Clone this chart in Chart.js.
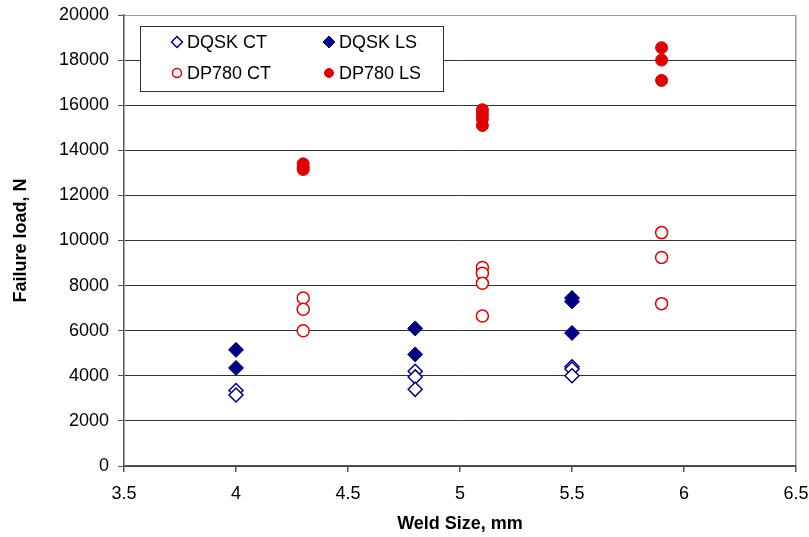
<!DOCTYPE html>
<html>
<head>
<meta charset="utf-8">
<script src="https://cdn.jsdelivr.net/npm/chart.js@4/dist/chart.umd.min.js"></script>
<style>
html,body{margin:0;padding:0;background:#fff;}
#wrap{width:809px;height:537px;position:relative;}
</style>
</head>
<body>
<div id="wrap"><canvas id="c" width="809" height="537"></canvas></div>
<script>
// ---- data ----
const seriesNames = ["DQSK CT", "DQSK LS", "DP780 CT", "DP780 LS"];

const dqskCtX = [4.0, 4.0, 4.8, 4.8, 4.8, 5.5, 5.5, 5.5];
const dqskCtY = [3350, 3150, 4200, 3950, 3400, 4400, 4300, 4000];

const dqskLsX = [4.0, 4.0, 4.8, 4.8, 5.5, 5.5, 5.5];
const dqskLsY = [5150, 4350, 6100, 4950, 7450, 7300, 5900];

const dp780CtX = [4.3, 4.3, 4.3, 5.1, 5.1, 5.1, 5.1, 5.9, 5.9, 5.9];
const dp780CtY = [7450, 6950, 6000, 8800, 8550, 8100, 6650, 10350, 9250, 7200];

const dp780LsX = [4.3, 4.3, 4.3, 5.1, 5.1, 5.1, 5.1, 5.9, 5.9, 5.9];
const dp780LsY = [13400, 13250, 13150, 15800, 15600, 15400, 15100, 18550, 18000, 17100];

const xTicks = [3.5, 4, 4.5, 5, 5.5, 6, 6.5];
const xTickLabels = ["3.5", "4", "4.5", "5", "5.5", "6", "6.5"];
const yTicks = [0, 2000, 4000, 6000, 8000, 10000, 12000, 14000, 16000, 18000, 20000];
const yTickLabels = ["0", "2000", "4000", "6000", "8000", "10000", "12000", "14000", "16000", "18000", "20000"];

const xTitle = "Weld Size, mm";
const yTitle = "Failure load, N";

// ---- build ----
const NAVY = '#000080';
const RED = '#E00000';
const FONT = "'Liberation Sans', Arial, sans-serif";

function pts(xs, ys){ return xs.map((x,i)=>({x:x, y:ys[i]})); }

const styles = [
  {pointStyle:'rectRot', radius:7, bg:'#ffffff', border:NAVY, bw:1.5},
  {pointStyle:'rectRot', radius:7.5, bg:NAVY, border:NAVY, bw:1},
  {pointStyle:'circle', radius:6, bg:'#ffffff', border:RED, bw:1.5},
  {pointStyle:'circle', radius:6, bg:RED, border:RED, bw:1}
];
const dataXY = [[dqskCtX,dqskCtY],[dqskLsX,dqskLsY],[dp780CtX,dp780CtY],[dp780LsX,dp780LsY]];

const datasets = seriesNames.map((n,i)=>({
  label:n,
  data:pts(dataXY[i][0], dataXY[i][1]),
  showLine:false,
  pointStyle:styles[i].pointStyle,
  pointRadius:styles[i].radius,
  pointHoverRadius:styles[i].radius,
  backgroundColor:styles[i].bg,
  borderColor:styles[i].border,
  pointBorderWidth:styles[i].bw,
  borderWidth:styles[i].bw
}));

const legendPlugin = {
  id:'boxLegend',
  afterDatasetsDraw(chart){
    const ctx = chart.ctx;
    ctx.save();
    const bx=140, by=26, bw=303, bh=65;
    ctx.fillStyle='#fff';
    ctx.fillRect(bx,by,bw,bh);
    ctx.strokeStyle='#333';
    ctx.lineWidth=1;
    ctx.strokeRect(bx+0.5,by+0.5,bw,bh);
    const pos = [[177,42],[329,42],[177,73],[329,73]];
    ctx.font = "18px " + FONT;
    ctx.textBaseline='middle';
    ctx.textAlign='left';
    seriesNames.forEach((n,i)=>{
      const [mx,my]=pos[i];
      const s=styles[i];
      ctx.fillStyle=s.bg; ctx.strokeStyle=s.border; ctx.lineWidth=s.bw;
      Chart.helpers.drawPoint(ctx,{pointStyle:s.pointStyle, radius:s.radius-1.5, rotation:0, borderWidth:s.bw}, mx, my);
      ctx.fillStyle='#000';
      ctx.fillText(n, mx+10, my+1);
    });
    ctx.restore();
  }
};

new Chart(document.getElementById('c'), {
  type:'scatter',
  data:{datasets:datasets},
  options:{
    responsive:false,
    animation:false,
    events:[],
    layout:{padding:{top:15,right:13,left:0,bottom:0}},
    plugins:{legend:{display:false}, tooltip:{enabled:false}},
    scales:{
      x:{
        type:'linear', min:3.5, max:6.5,
        afterBuildTicks(s){ s.ticks = xTicks.map(v=>({value:v})); },
        afterFit(s){ s.height = 71; s.paddingLeft = 0; s.paddingRight = 0; },
        ticks:{font:{family:FONT,size:18}, color:'#000', padding:11, maxRotation:0, autoSkip:false,
          callback:(v)=>{ const i = xTicks.indexOf(v); return i>=0 ? xTickLabels[i] : ''; }},
        grid:{
          drawOnChartArea:true,
          color:(c)=> (c.tick && c.tick.value===6.5) ? '#999999' : 'rgba(0,0,0,0)',
          tickColor:'#555', tickLength:6, lineWidth:1.5
        },
        border:{display:true, color:'#555', width:1.5},
        title:{display:true, text:xTitle, font:{family:FONT,size:18,weight:'bold'}, color:'#000', padding:{top:3,bottom:2}}
      },
      y:{
        type:'linear', min:0, max:20000,
        afterBuildTicks(s){ s.ticks = yTicks.map(v=>({value:v})); },
        afterFit(s){ s.width = 124; s.paddingTop = 0; s.paddingBottom = 0; },
        ticks:{font:{family:FONT,size:18}, color:'#000', padding:9,
          callback:(v)=>{ const i = yTicks.indexOf(v); return i>=0 ? yTickLabels[i] : ''; }},
        grid:{
          color:(c)=> (c.tick && c.tick.value===20000) ? '#999999' : '#333333',
          tickColor:'#555', tickLength:6, lineWidth:1
        },
        border:{display:true, color:'#555', width:1.5},
        title:{display:true, text:yTitle, font:{family:FONT,size:18,weight:'bold'}, color:'#000', padding:{top:10,bottom:4}}
      }
    }
  },
  plugins:[legendPlugin]
});
</script>
</body>
</html>
